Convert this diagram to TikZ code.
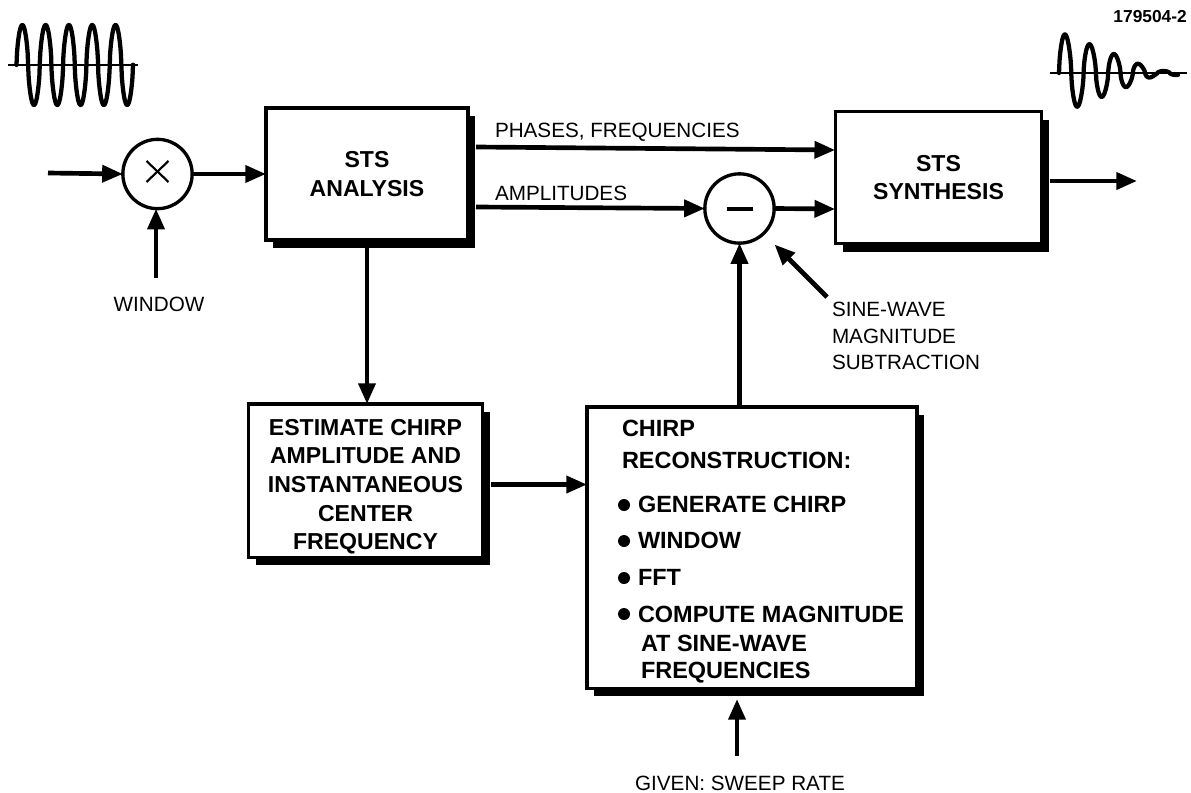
\documentclass[tikz,border=0pt]{standalone}
\usepackage{fontspec}
\setmainfont{Liberation Sans}
\usetikzlibrary{arrows.meta,calc,shadows}
\tikzset{
  stsbox/.style={draw=black,fill=white,line width=2.3pt,outer sep=0pt,inner sep=0pt,align=center,
    font=\fontsize{17.3}{21.5}\selectfont\bfseries,
    drop shadow={shadow xshift=5.6pt,shadow yshift=-6.2pt,fill=black,opacity=1}},
  opcircle/.style={draw=black,fill=white,circle,line width=2.5pt,outer sep=0pt,inner sep=0pt,minimum size=52pt},
  flow/.style={line width=3.5pt,-{Triangle[length=15.5pt,width=12.5pt]}},
  wave/.style={line width=3.2pt,line join=round,line cap=round},
  axisline/.style={line width=2pt},
  mark stroke/.style={line width=1.6pt},
  lbl/.style={inner sep=0pt,outer sep=0pt,font=\fontsize{15.5}{20}\selectfont},
  lblbold/.style={inner sep=0pt,outer sep=0pt,anchor=base west,font=\fontsize{17.6}{21.5}\selectfont\bfseries},
  bulletdot/.style={circle,fill=black,inner sep=0pt,minimum size=9pt}
}
\begin{document}
\begin{tikzpicture}[x=0.75pt,y=-0.75pt]
\useasboundingbox (0,0) rectangle (1191,792);

% boxes
\node[stsbox,minimum width=151.5pt,minimum height=99pt] (analysis) at (367,174) {STS\\ANALYSIS};
\node[stsbox,minimum width=155pt,minimum height=98.6pt] (synth) at (938.5,177.5) {STS\\SYNTHESIS};
\node[stsbox,minimum width=176pt,minimum height=114.8pt] (est) at (365.5,480.5) {\rule{0pt}{21.4pt}ESTIMATE CHIRP\\AMPLITUDE AND\\INSTANTANEOUS\\CENTER\\FREQUENCY};
\node[stsbox,minimum width=247.5pt,minimum height=210.8pt] (chirp) at (752,547.5) {};

% summing circles
\node[opcircle] (mult) at (157.5,174) {};
\node[opcircle] (sub) at (739.5,208.5) {};
\draw[mark stroke] ($(mult)+(-11,-13)$) -- ($(mult)+(11,8)$);
\draw[mark stroke] ($(mult)+(11,-13)$) -- ($(mult)+(-11,8)$);
\draw[line width=3.2pt] ($(sub)+(-13,0.5)$) -- ($(sub)+(13,0.5)$);

% free ends
\coordinate (inend) at (48,173);
\coordinate (winend) at (156,278);
\coordinate (outend) at (1137,181);
\coordinate (sweepend) at (737,756);
\coordinate (calloutend) at (827,297);
\coordinate (outstart) at ($(synth.east)+(8,3.5)$);
\coordinate (e1) at ($(est.east)+(8,4)$);

% connectors
\draw[flow] (inend) -- (mult.west);
\draw[flow] (winend) -- (winend |- mult.south);
\draw[flow] (mult.east) -- (analysis.west);
\draw[flow] ($(analysis.east)+(8,-27)$) -- ($(synth.west)+(0,-27.5)$);
\draw[flow] ($(analysis.east)+(8,33)$) -- (sub.west);
\draw[flow] (sub.east) -- ($(synth.west)+(0,31.5)$);
\draw[flow] (sub |- chirp.north) -- (sub.south);
\draw[flow] (calloutend) -- ($(sub)+(35,36)$);
\draw[flow] (outstart) -- (outend);
\draw[flow] ($(analysis.south)+(0,8)$) -- (analysis.south |- est.north);
\draw[flow] (e1) -- (e1 -| chirp.west);
\draw[flow] (sweepend) -- ($(sweepend |- chirp.south)+(0,11)$);

% chirp box text
\node[lblbold] (c1) at (622,436) {CHIRP};
\node[lblbold] (c2) at (622,468) {RECONSTRUCTION:};
\node[lblbold] (c3) at (638,512) {GENERATE CHIRP};
\node[lblbold] (c4) at (638,548) {WINDOW};
\node[lblbold] (c5) at (638,585) {FFT};
\node[lblbold] (c6) at (638,622) {COMPUTE MAGNITUDE};
\node[lblbold] (c7) at (641,651) {AT SINE-WAVE};
\node[lblbold] (c8) at (641,678) {FREQUENCIES};
\node[bulletdot] (b1) at (624,505) {};
\node[bulletdot] (b2) at (624,541) {};
\node[bulletdot] (b3) at (624,578) {};
\node[bulletdot] (b4) at (624,614) {};

% labels
\node[lbl,anchor=base west] (lphases) at (495,137) {PHASES, FREQUENCIES};
\node[lbl,anchor=base west] (lamps) at (495,200) {AMPLITUDES};
\node[lbl,anchor=base] (lwin) at (159,311) {WINDOW};
\node[lbl,anchor=base west] (ls1) at (832,316) {SINE-WAVE};
\node[lbl,anchor=base west] (ls2) at (832,343) {MAGNITUDE};
\node[lbl,anchor=base west] (ls3) at (832,369) {SUBTRACTION};
\node[lbl,anchor=base] (lsweep) at (740,790) {GIVEN: SWEEP RATE};
\node[inner sep=0pt,anchor=base east,font=\fontsize{13}{15}\selectfont\bfseries] (lid) at (1187,23) {179504-2};

% waveforms (rounded lobes)
\draw[axisline] (8,65) -- (138,65);
\draw[wave] plot[domain=16.5:133,samples=240] (\x,{65-40*sign(sin(15.451*(\x-16.5)))*abs(sin(15.451*(\x-16.5)))^0.6});
\draw[axisline] (1050,73) -- (1187,73);
\draw[wave] plot[domain=1059:1178,samples=240] (\x,{73-max(41-0.40*(\x-1059),2)*sign(sin(14.634*(\x-1059)))*abs(sin(14.634*(\x-1059)))^0.6});
\end{tikzpicture}
\end{document}
